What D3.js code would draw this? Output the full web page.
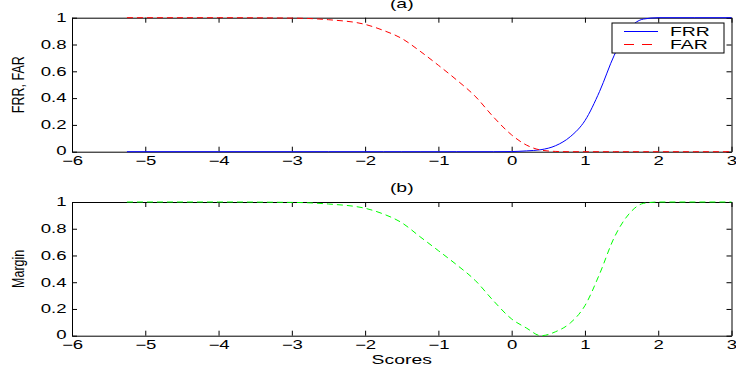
<!DOCTYPE html>
<html>
<head>
<meta charset="utf-8">
<script src="https://cdn.jsdelivr.net/npm/d3@7"></script>
<style>
  body { margin: 0; background: #fff; }
  svg { display: block; font-family: "Liberation Sans", Arial, sans-serif; }
  .axis path, .axis line { stroke: #000; stroke-width: 1; }
  .axis text { font-size: 12px; fill: #000; }
  .label { font-size: 12.5px; fill: #000; }
</style>
</head>
<body>
<div id="chart"></div>
<script>
// scores
const scores = [-5.25, -4, -3, -2.5, -2, -1.75, -1.5, -1.25, -1, -0.75, -0.5, -0.25,
  0, 0.2, 0.4, 0.6, 0.8, 1, 1.2, 1.4, 1.6, 1.8, 2, 2.5, 3];
const frr = [0, 0, 0, 0, 0, 0, 0, 0, 0, 0, 0, 0,
  0.001, 0.006, 0.015, 0.045, 0.112, 0.232, 0.45, 0.72, 0.915, 0.99, 1, 1, 1];
const far = [1, 1, 0.997, 0.985, 0.95, 0.905, 0.845, 0.75, 0.645, 0.535, 0.415, 0.26,
  0.125, 0.05, 0.012, 0.002, 0, 0, 0, 0, 0, 0, 0, 0, 0];
const margin = [1, 1, 0.997, 0.985, 0.953, 0.91, 0.845, 0.74, 0.636, 0.53, 0.415, 0.262,
  0.125, 0.058, 0.0, 0.03, 0.095, 0.225, 0.462, 0.735, 0.91, 0.99, 1, 1, 1];

const xTicks = [-6, -5, -4, -3, -2, -1, 0, 1, 2, 3];
const yTicks = [0, 0.2, 0.4, 0.6, 0.8, 1];

const width = 736, height = 373;
const stretch = 1.55; // the reference text is wider than it is tall

const svg = d3.select("#chart").append("svg")
  .attr("width", width)
  .attr("height", height);

const x = d3.scaleLinear().domain([-6, 3]).range([72, 731.5]);

function panel(top, bottom, title, ylabel, series) {
  const y = d3.scaleLinear().domain([0, 1]).range([bottom, top]);
  const g = svg.append("g");

  const fmt = (d) => (d === 0 || d === 1 ? d3.format("d")(d) : d3.format(".1f")(d));

  const gx = g.append("g").attr("class", "axis")
    .attr("transform", `translate(0,${bottom})`)
    .call(d3.axisBottom(x).tickValues(xTicks).tickSize(-5).tickPadding(5).tickSizeOuter(0)
      .tickFormat((d) => d3.format("d")(d).replace("-", "\u2212")));
  gx.selectAll("text").attr("transform", `scale(${stretch},1)`);

  g.append("g").attr("class", "axis")
    .attr("transform", `translate(0,${top})`)
    .call(d3.axisTop(x).tickValues(xTicks).tickSize(-5).tickSizeOuter(0).tickFormat(""));

  const gy = g.append("g").attr("class", "axis")
    .attr("transform", `translate(${x.range()[0]},0)`)
    .call(d3.axisLeft(y).tickValues(yTicks).tickSize(-5).tickPadding(3.5).tickSizeOuter(0)
      .tickFormat(fmt));
  gy.selectAll("text").attr("transform", `scale(${stretch},1)`)
    .attr("dy", (d) => (d === 0 ? "0.2em" : "0.32em"));

  g.append("g").attr("class", "axis")
    .attr("transform", `translate(${x.range()[1]},0)`)
    .call(d3.axisRight(y).tickValues(yTicks).tickSize(-5).tickSizeOuter(0).tickFormat(""));

  const line = d3.line()
    .x((d) => x(d[0]))
    .y((d) => y(d[1]))
    .curve(d3.curveMonotoneX);

  series.forEach((s) => {
    g.append("path")
      .datum(scores.map((sc, i) => [sc, s.values[i]]))
      .attr("fill", "none")
      .attr("stroke", s.color)
      .attr("stroke-width", 1)
      .attr("stroke-dasharray", s.dash || null)
      .attr("d", line);
  });

  g.append("text").attr("class", "label")
    .attr("text-anchor", "middle")
    .attr("transform", `translate(${(x.range()[0] + x.range()[1]) / 2},${top - 10}) scale(${stretch},1)`)
    .text(title);

  g.append("text").attr("class", "label")
    .attr("text-anchor", "middle")
    .attr("transform", `translate(24,${(top + bottom) / 2}) rotate(-90) scale(1,1.3)`)
    .text(ylabel);

  return y;
}

panel(17.7, 151.7, "(a)", "FRR, FAR", [
  { values: frr, color: "#0000ff" },
  { values: far, color: "#ff0000", dash: "6,4" },
]);

panel(202, 335.7, "(b)", "Margin", [
  { values: margin, color: "#00ff00", dash: "6,4" },
]);

svg.append("text").attr("class", "label")
  .attr("text-anchor", "middle")
  .attr("transform", `translate(401.7,364) scale(${stretch},1)`)
  .text("Scores");

// legend
const legendItems = [
  { name: "FRR", color: "#0000ff", dash: null },
  { name: "FAR", color: "#ff0000", dash: "10,8" },
];
const legend = svg.append("g").attr("transform", "translate(612,23)");
legend.append("rect")
  .attr("width", 112).attr("height", 30)
  .attr("fill", "#fff").attr("stroke", "#000").attr("stroke-width", 1);
legendItems.forEach((d, i) => {
  const cy = 8.5 + i * 13;
  legend.append("line")
    .attr("x1", 12).attr("x2", 46).attr("y1", cy).attr("y2", cy)
    .attr("stroke", d.color).attr("stroke-width", 1)
    .attr("stroke-dasharray", d.dash);
  legend.append("text").attr("class", "label")
    .attr("transform", `translate(58,${cy + 4.5}) scale(${stretch},1)`)
    .text(d.name);
});
</script>
</body>
</html>
